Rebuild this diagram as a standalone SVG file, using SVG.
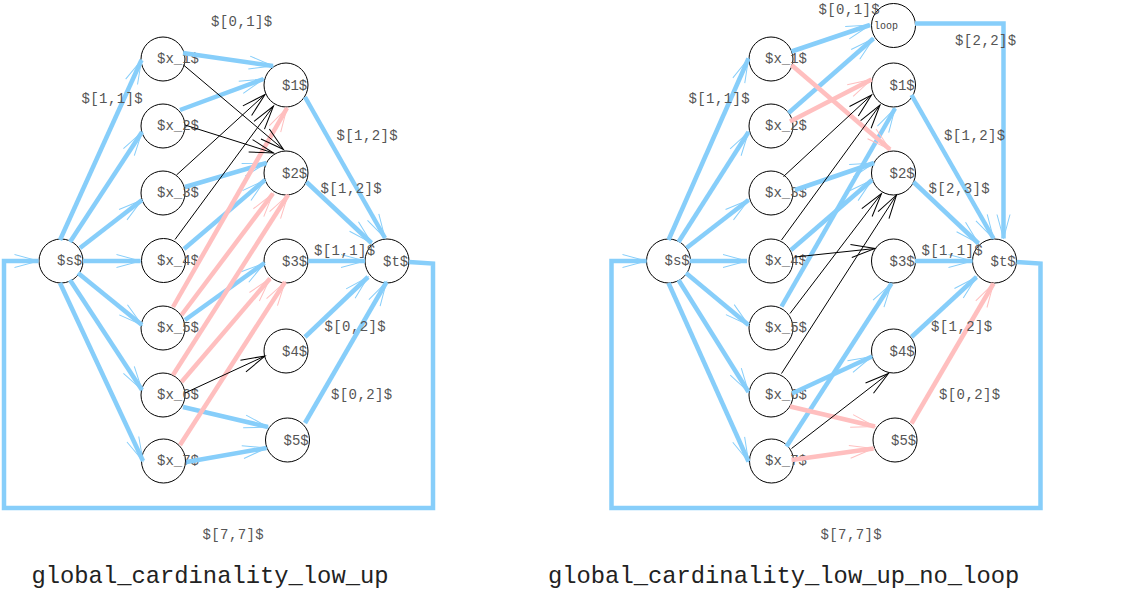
<svg xmlns="http://www.w3.org/2000/svg" width="1127" height="590" viewBox="0 0 1127 590">
<style>
.n circle{fill:#fff;stroke:#000;stroke-width:1}
.n text,.lb{font-family:"Liberation Mono","Courier New",monospace;font-size:14px;fill:#555}
.lb{letter-spacing:0.4px}
.lp{font-family:"Liberation Mono","Courier New",monospace;font-size:10px;fill:#444}
.ttl{font-family:"Liberation Mono","Courier New",monospace;font-size:23.8px;fill:#222}
.b{stroke:#87cefa;stroke-width:4.5;fill:none;marker-end:url(#ab)}
.p{stroke:#ffbfbf;stroke-width:4.5;fill:none;marker-end:url(#ap)}
.k{stroke:#000;stroke-width:1;fill:none;marker-end:url(#ak)}
</style>
<defs>
<marker id="ab" viewBox="-26 -10 30 20" refX="0" refY="0" markerWidth="30" markerHeight="20" markerUnits="userSpaceOnUse" orient="auto"><path d="M-24,-6.5L0,0L-24,6.5" fill="none" stroke="#87cefa" stroke-width="1"/></marker>
<marker id="ap" viewBox="-26 -10 30 20" refX="0" refY="0" markerWidth="30" markerHeight="20" markerUnits="userSpaceOnUse" orient="auto"><path d="M-24,-6.5L0,0L-24,6.5" fill="none" stroke="#ffbfbf" stroke-width="1"/></marker>
<marker id="ak" viewBox="-26 -10 30 20" refX="0" refY="0" markerWidth="30" markerHeight="20" markerUnits="userSpaceOnUse" orient="auto"><path d="M-24,-6.5L0,0L-24,6.5" fill="none" stroke="#000" stroke-width="1"/></marker>
</defs>

<!-- LEFT DIAGRAM NODES -->
<g id="L_s" class="n"><circle cx="61" cy="261" r="22"/><text x="57" y="265">$s$</text></g>
<g id="L_x1" class="n"><circle cx="163" cy="59" r="22"/><text x="157" y="63">$x_1$</text></g>
<g id="L_x2" class="n"><circle cx="163" cy="126" r="22"/><text x="157" y="130">$x_2$</text></g>
<g id="L_x3" class="n"><circle cx="163" cy="193" r="22"/><text x="157" y="197">$x_3$</text></g>
<g id="L_x4" class="n"><circle cx="163.5" cy="260.5" r="22"/><text x="157" y="264.5">$x_4$</text></g>
<g id="L_x5" class="n"><circle cx="163" cy="328" r="22"/><text x="157" y="332">$x_5$</text></g>
<g id="L_x6" class="n"><circle cx="163" cy="395" r="22"/><text x="157" y="399">$x_6$</text></g>
<g id="L_x7" class="n"><circle cx="163.5" cy="461" r="22"/><text x="157" y="465">$x_7$</text></g>
<g id="L_1" class="n"><circle cx="286" cy="85" r="22"/><text x="282" y="89.5">$1$</text></g>
<g id="L_2" class="n"><circle cx="286" cy="173" r="22"/><text x="282" y="177.5">$2$</text></g>
<g id="L_3" class="n"><circle cx="286" cy="261" r="22"/><text x="282" y="265.5">$3$</text></g>
<g id="L_4" class="n"><circle cx="286" cy="351" r="22"/><text x="282" y="355.5">$4$</text></g>
<g id="L_5" class="n"><circle cx="287.5" cy="440" r="22"/><text x="283.5" y="444.5">$5$</text></g>
<g id="L_t" class="n"><circle cx="387" cy="261" r="22"/><text x="383" y="265.5">$t$</text></g>

<!-- RIGHT DIAGRAM NODES -->
<g id="R_s" class="n"><circle cx="668.5" cy="261" r="22"/><text x="664.5" y="265">$s$</text></g>
<g id="R_x1" class="n"><circle cx="771" cy="59" r="22"/><text x="765" y="63">$x_1$</text></g>
<g id="R_x2" class="n"><circle cx="771" cy="126" r="22"/><text x="765" y="130">$x_2$</text></g>
<g id="R_x3" class="n"><circle cx="771" cy="193" r="22"/><text x="765" y="197">$x_3$</text></g>
<g id="R_x4" class="n"><circle cx="771" cy="261" r="22"/><text x="765" y="265">$x_4$</text></g>
<g id="R_x5" class="n"><circle cx="771" cy="328" r="22"/><text x="765" y="332">$x_5$</text></g>
<g id="R_x6" class="n"><circle cx="771" cy="395" r="22"/><text x="765" y="399">$x_6$</text></g>
<g id="R_x7" class="n"><circle cx="771.5" cy="461" r="22"/><text x="765" y="465">$x_7$</text></g>
<g id="R_loop" class="n"><circle cx="893.5" cy="25.5" r="22"/><text class="lp" x="874" y="28.5" style="font-size:10px;fill:#444">loop</text></g>
<g id="R_1" class="n"><circle cx="893.5" cy="85" r="22"/><text x="889.5" y="89.5">$1$</text></g>
<g id="R_2" class="n"><circle cx="893.5" cy="173" r="22"/><text x="889.5" y="177.5">$2$</text></g>
<g id="R_3" class="n"><circle cx="893.5" cy="261" r="22"/><text x="889.5" y="265.5">$3$</text></g>
<g id="R_4" class="n"><circle cx="893.5" cy="351" r="22"/><text x="889.5" y="355.5">$4$</text></g>
<g id="R_5" class="n"><circle cx="895" cy="440" r="22"/><text x="891" y="444.5">$5$</text></g>
<g id="R_t" class="n"><circle cx="994.5" cy="261" r="22"/><text x="990.5" y="265.5">$t$</text></g>

<g id="connectors">
<!-- left blue -->
<path class="b" d="M60,240L141.5,60"/>
<path class="b" d="M70,242L142,132"/>
<path class="b" d="M80,248L142,200"/>
<path class="b" d="M83,261L140.5,261"/>
<path class="b" d="M78,273L142,325"/>
<path class="b" d="M70,280L142,390"/>
<path class="b" d="M60,283L143,461"/>
<path class="b" d="M183,53L273,66"/>
<path class="b" d="M180,110L263.5,79"/>
<path class="b" d="M185,187L266.5,163"/>
<path class="b" d="M184,249L265,180"/>
<path class="b" d="M185,320L264.5,263"/>
<path class="b" d="M183,407L268,427"/>
<path class="b" d="M186.5,462L266.5,448"/>
<path class="b" d="M305,97L385,238"/>
<path class="b" d="M306.5,182L371.5,243"/>
<path class="b" d="M308,261L365,261"/>
<path class="b" d="M305,337L368,277"/>
<path class="b" d="M305,423L386.5,282"/>
<path class="b" d="M409,262L433,263.5L433,508L4,508L4,261L38.5,261"/>
<!-- left pink -->
<path class="p" d="M173,307L287,108"/>
<path class="p" d="M181.5,315L273,193.5"/>
<path class="p" d="M173,375L288,195"/>
<path class="p" d="M181.5,382L270,278.5"/>
<path class="p" d="M180,445L285,282"/>
<!-- left black -->
<path class="k" d="M183.5,65L283.5,149.5"/>
<path class="k" d="M185,125L273.5,153"/>
<path class="k" d="M176.5,175L265,94.5"/>
<path class="k" d="M175,239.5L273.5,106"/>
<path class="k" d="M185,393L265,356"/>

<!-- right blue -->
<path class="b" d="M668.5,240L748.5,58.5"/>
<path class="b" d="M678.5,242L748.5,132"/>
<path class="b" d="M686.5,248L748.5,200"/>
<path class="b" d="M690,261L747,261"/>
<path class="b" d="M686,273L748.5,325"/>
<path class="b" d="M678.5,280L748.5,392"/>
<path class="b" d="M668.5,283L748.5,461.5"/>
<path class="b" d="M791.5,51.5L870,25"/>
<path class="b" d="M788.5,113L873.5,38.5"/>
<path class="b" d="M795,190L874,163"/>
<path class="b" d="M791,250L872,180"/>
<path class="b" d="M781.5,306.5L895,108.5"/>
<path class="b" d="M786.5,446.5L891.5,283.5"/>
<path class="b" d="M792,393.5L872,356.5"/>
<path class="b" d="M911.5,95L993.5,238.5"/>
<path class="b" d="M913.5,182L978.5,243.5"/>
<path class="b" d="M915,261L972.5,261"/>
<path class="b" d="M911.5,337L976.5,277"/>
<path class="b" d="M915,23.5L1003.5,23.5L1003.5,238.5"/>
<path class="b" d="M1016.5,262L1040.5,263.5L1040.5,508L611.5,508L611.5,261L646.5,261"/>
<!-- right pink -->
<path class="p" d="M791.5,65L890,149.5"/>
<path class="p" d="M790,121.5L871.5,79.5"/>
<path class="p" d="M790,406.5L875,426.5"/>
<path class="p" d="M791.5,460L873.5,448.5"/>
<path class="p" d="M911.5,423.5L993.5,283.5"/>
<!-- right black -->
<path class="k" d="M783.5,176.5L871.5,95"/>
<path class="k" d="M781.5,240L880,105"/>
<path class="k" d="M795,257L875,248.5"/>
<path class="k" d="M790,313.5L881.5,193.5"/>
<path class="k" d="M781.5,373.5L896.5,195"/>
<path class="k" d="M791.5,448.5L888.5,373.5"/>
</g>

<g id="edge-labels">
<text class="lb" x="211" y="26">$[0,1]$</text>
<text class="lb" x="81.5" y="103">$[1,1]$</text>
<text class="lb" x="336.5" y="139.5">$[1,2]$</text>
<text class="lb" x="320.5" y="193">$[1,2]$</text>
<text class="lb" x="314" y="254.5">$[1,1]$</text>
<text class="lb" x="324.5" y="330.5">$[0,2]$</text>
<text class="lb" x="331" y="398.5">$[0,2]$</text>
<text class="lb" x="202.5" y="538.5">$[7,7]$</text>

<text class="lb" x="818.5" y="14">$[0,1]$</text>
<text class="lb" x="955" y="44.5">$[2,2]$</text>
<text class="lb" x="688.5" y="103">$[1,1]$</text>
<text class="lb" x="944" y="139.5">$[1,2]$</text>
<text class="lb" x="928.5" y="193">$[2,3]$</text>
<text class="lb" x="921.5" y="254.5">$[1,1]$</text>
<text class="lb" x="931" y="330.5">$[1,2]$</text>
<text class="lb" x="939" y="398.5">$[0,2]$</text>
<text class="lb" x="820.5" y="538.5">$[7,7]$</text>
</g>

<text class="ttl" x="31.5" y="583">global_cardinality_low_up</text>
<text class="ttl" x="548" y="583">global_cardinality_low_up_no_loop</text>
</svg>
